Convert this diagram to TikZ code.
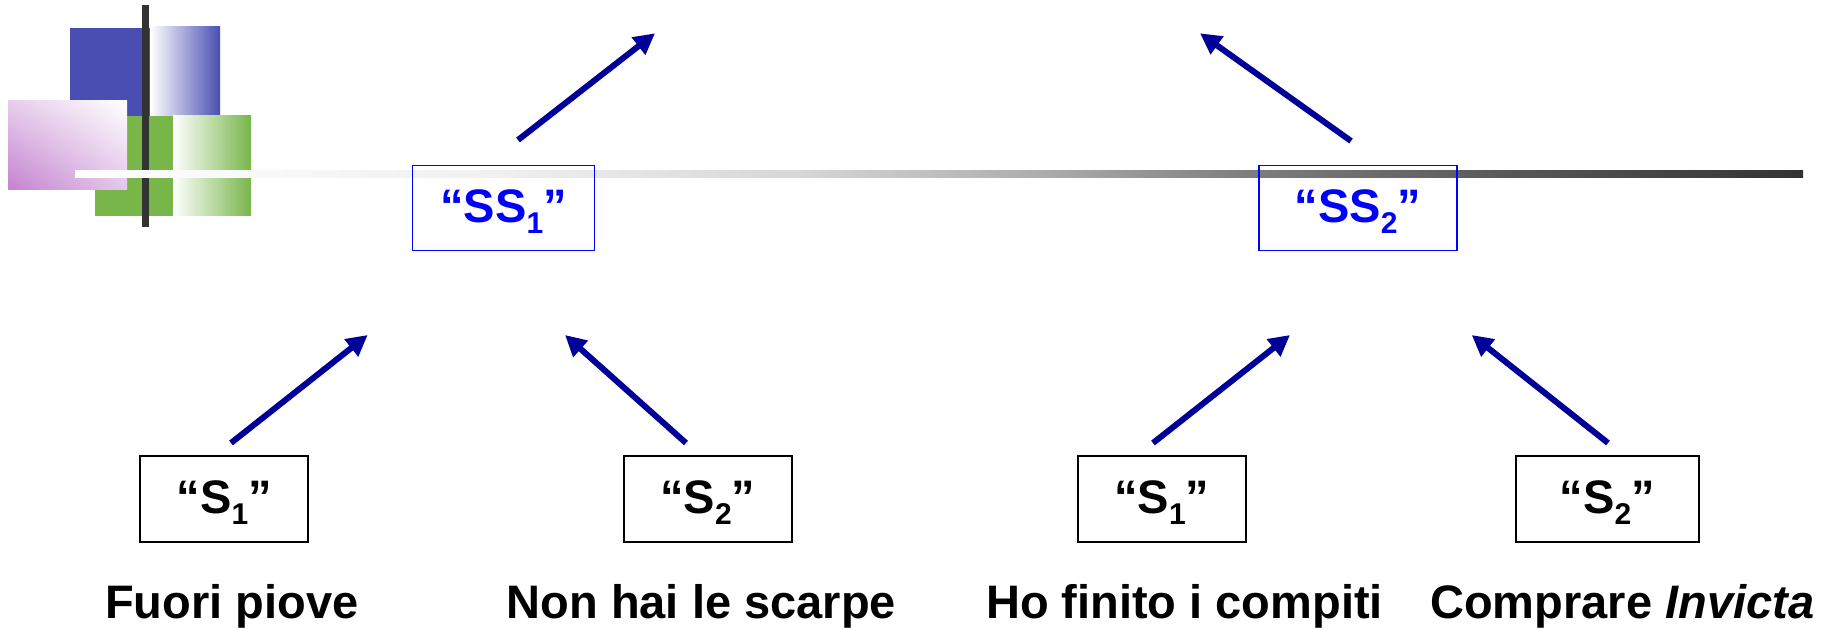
\documentclass[tikz,border=0pt]{standalone}
\usepackage{fontspec}
\setmainfont{Liberation Sans}
\usetikzlibrary{arrows.meta,shadings}
\definecolor{navy}{HTML}{000099}
\definecolor{logoblue}{HTML}{4A4EB2}
\definecolor{logogreen}{HTML}{78B64A}
\definecolor{logopurple}{HTML}{C382CF}
\definecolor{bardark}{HTML}{333333}
\pgfdeclarehorizontalshading{ruleshade}{100bp}{rgb(0bp)=(1,1,1); rgb(25bp)=(1,1,1); rgb(37.3bp)=(0.94,0.94,0.94); rgb(46bp)=(0.84,0.84,0.84); rgb(53.2bp)=(0.67,0.67,0.67); rgb(59bp)=(0.49,0.49,0.49); rgb(66.2bp)=(0.35,0.35,0.35); rgb(75bp)=(0.2,0.2,0.2); rgb(100bp)=(0.2,0.2,0.2)}
\newcommand{\mysub}[1]{\raisebox{-11bp}{\fontsize{30bp}{30bp}\selectfont #1}}
\begin{document}
\begin{tikzpicture}[x=1bp,y=-1bp,
  sbox/.style={draw=black, line width=1.6bp, minimum width=168bp, minimum height=86bp, inner sep=0pt,
    text height=34bp, text depth=5bp, font=\fontsize{47bp}{50bp}\selectfont\bfseries},
  ssbox/.style={sbox, draw=blue, text=blue, line width=1.4bp, minimum height=85bp},
  lbl/.style={anchor=base, inner sep=0pt, font=\fontsize{47bp}{50bp}\selectfont\bfseries},
  arr/.style={draw=navy, line width=6bp, -{Triangle[length=21bp,width=21bp]}}
]
\useasboundingbox (0,0) rectangle (1839,629);
% logo
\fill[logoblue] (70,28) rectangle (150,116);
\shade[left color=white, right color=logoblue] (150,27) rectangle (220,116);
\fill[logogreen] (95,116) rectangle (173,216);
\shade[left color=white, right color=logogreen] (173,116) rectangle (251,216);
\shade[lower left=logopurple, upper right=white, upper left=logopurple!40, lower right=logopurple!45] (8,101) rectangle (127,190);
\fill[bardark] (142,5) rectangle (149,227);
% horizontal rule
\shade[shading=ruleshade] (75,171) rectangle (1803,178);
% boxes
\node[ssbox, minimum width=182bp] (ss1) at (503.5,208.2) {“SS\mysub{1}”};
\node[ssbox, minimum width=198bp] (ss2) at (1357.8,208.2) {“SS\mysub{2}”};
\node[sbox] (s1a) at (224.2,499.2) {“S\mysub{1}”};
\node[sbox] (s2a) at (707.8,499.2) {“S\mysub{2}”};
\node[sbox] (s1b) at (1161.7,499.2) {“S\mysub{1}”};
\node[sbox, minimum width=183bp] (s2b) at (1607.3,499.2) {“S\mysub{2}”};
% labels
\node[lbl] (l1) at (231.7,618.3) {Fuori piove};
\node[lbl] (l2) at (701.3,618.3) {Non hai le scarpe};
\node[lbl] (l3) at (1184.5,618.3) {Ho finito i compiti};
\node[lbl] (l4) at (1622.3,618.3) {Comprare \textit{Invicta}};
% arrow endpoints
\coordinate (a1s) at (231,443); \coordinate (a1e) at (367.7,335);
\coordinate (a2s) at (686,443); \coordinate (a2e) at (565,335);
\coordinate (a3s) at (1153,443); \coordinate (a3e) at (1290,335);
\coordinate (a4s) at (1608,443); \coordinate (a4e) at (1471.7,335);
\coordinate (a5s) at (518,140); \coordinate (a5e) at (655,33.3);
\coordinate (a6s) at (1351,141); \coordinate (a6e) at (1200,33.3);
\draw[arr] (a1s) -- (a1e);
\draw[arr] (a2s) -- (a2e);
\draw[arr] (a3s) -- (a3e);
\draw[arr] (a4s) -- (a4e);
\draw[arr] (a5s) -- (a5e);
\draw[arr] (a6s) -- (a6e);
\end{tikzpicture}
\end{document}
